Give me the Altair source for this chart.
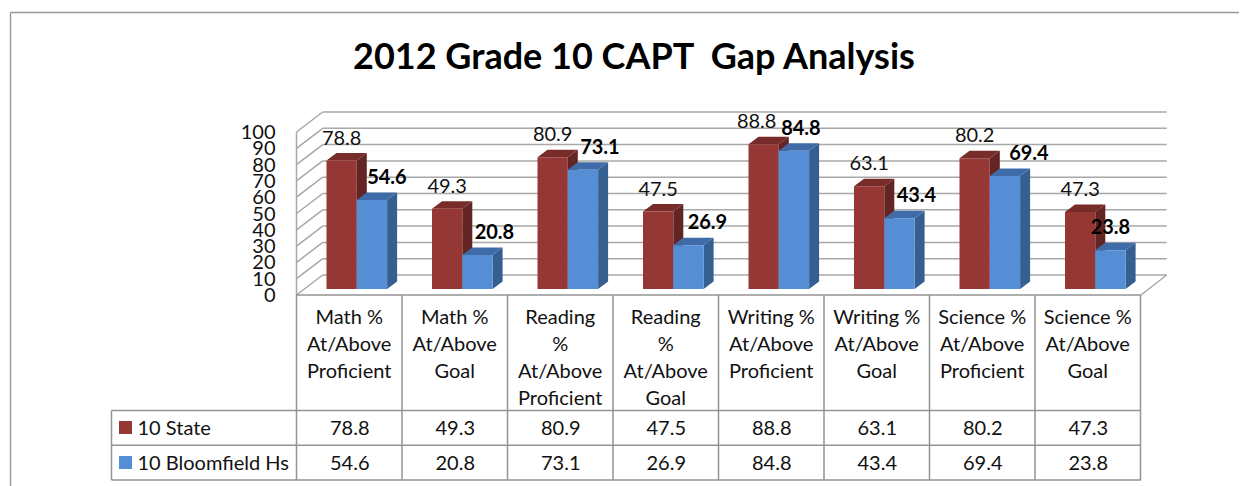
import altair as alt
import pandas as pd

# ---- chart values ----
title = "2012 Grade 10 CAPT\u00a0 Gap Analysis"
categories = [
    ["Math %", "At/Above", "Proficient"],
    ["Math %", "At/Above", "Goal"],
    ["Reading", "%", "At/Above", "Proficient"],
    ["Reading", "%", "At/Above", "Goal"],
    ["Writing %", "At/Above", "Proficient"],
    ["Writing %", "At/Above", "Goal"],
    ["Science %", "At/Above", "Proficient"],
    ["Science %", "At/Above", "Goal"],
]
state = [78.8, 49.3, 80.9, 47.5, 88.8, 63.1, 80.2, 47.3]
bloomfield = [54.6, 20.8, 73.1, 26.9, 84.8, 43.4, 69.4, 23.8]
series_names = ["10 State", "10 Bloomfield Hs"]
axis_ticks = list(range(0, 101, 10))

# ---- layout (page pixels are converted to scale units) ----
FONT = "Lato"
W, H = 1231, 478
FX0, FX1, FY0 = 297.0, 1141.0, 295.0
CAT_PX, UNIT_PX = (FX1 - FX0) / 8, 1.63
DEPTH_X, DEPTH_Y = 25.7, 20.0       # full wall depth in pixels


def ux(px):
    return (px - FX0) / CAT_PX


def uy(px):
    return (FY0 - px) / UNIT_PX


XS = alt.Scale(domain=[ux(8), ux(8 + W)], range=[0, W], nice=False, zero=False)
YS = alt.Scale(domain=[uy(8 + H), uy(8)], range=[H, 0], nice=False, zero=False)
X = alt.X("x:Q", scale=XS, axis=None)
Y = alt.Y("y:Q", scale=YS, axis=None)
Y2 = alt.Y2("y2:Q")
X2 = alt.X2("x2:Q")


def lines_layer(segs, color, width):
    rows = []
    for i, (x0, y0, x1, y1) in enumerate(segs):
        rows += [dict(id=i, o=0, x=ux(x0), y=uy(y0)), dict(id=i, o=1, x=ux(x1), y=uy(y1))]
    return (
        alt.Chart(pd.DataFrame(rows))
        .mark_line(color=color, strokeWidth=width, clip=False)
        .encode(x=X, y=Y, detail="id:N", order="o:Q")
    )


def text_layer(rows, size=20, weight="normal", align="center", color="#111111"):
    return (
        alt.Chart(pd.DataFrame(rows))
        .mark_text(font=FONT, fontSize=size, fontWeight=weight, align=align,
                   baseline="middle", color=color, dy=1)
        .encode(x=X, y=Y, text="t:N")
    )


layers = []

# outer frame
layers.append(lines_layer([(10.5, 12.5, 10.5, 486), (10.5, 12.5, 1247, 12.5)], "#989898", 1.4))

# walls
grid = []
for v in axis_ticks:
    back = FY0 - DEPTH_Y - v * UNIT_PX
    grid.append((FX0 + DEPTH_X, back, FX1 + DEPTH_X, back))
    grid.append((FX0 - 0.5, back + DEPTH_Y, FX0 + DEPTH_X, back))
grid.append((FX1, FY0, FX1 + DEPTH_X, FY0 - DEPTH_Y))
grid.append((FX0 - 0.5, FY0, FX0 - 0.5, FY0 - 100 * UNIT_PX))
layers.append(lines_layer(grid, "#A8A8A8", 1.5))

# 3-D bars: values pass through the y scale, depth is added in scale units
BAR_LEFT = 29.5 / CAT_PX
BAR_W = 30.3 / CAT_PX
BASE = 6.0 / UNIT_PX
SIDE_X = 10.0 / CAT_PX
SIDE_Y = 7.5 / UNIT_PX
palette = [("#953735", "#632523", "#772C2A"), ("#558ED5", "#365F91", "#3F6CA8")]

for s, vals in enumerate([state, bloomfield]):
    front, side, top = [], [], []
    for c, v in enumerate(vals):
        l = c + BAR_LEFT + s * BAR_W
        r = l + BAR_W
        h = v + BASE
        front.append(dict(x=l, x2=r, y=BASE, y2=h))
        side += [dict(id=c, x=r, y=BASE, y2=h),
                 dict(id=c, x=r + SIDE_X, y=BASE + SIDE_Y, y2=h + SIDE_Y)]
        top += [dict(id=c, x=l, y=h, y2=h),
                dict(id=c, x=l + SIDE_X, y=h, y2=h + SIDE_Y),
                dict(id=c, x=r, y=h, y2=h + SIDE_Y),
                dict(id=c, x=r + SIDE_X, y=h + SIDE_Y, y2=h + SIDE_Y)]
    dark, mid = palette[s][1], palette[s][2]
    layers.append(alt.Chart(pd.DataFrame(side)).mark_area(color=dark, interpolate="linear")
                  .encode(x=X, y=Y, y2=Y2, detail="id:N"))
    layers.append(alt.Chart(pd.DataFrame(top)).mark_area(color=mid, interpolate="linear")
                  .encode(x=X, y=Y, y2=Y2, detail="id:N"))
    layers.append(alt.Chart(pd.DataFrame(front)).mark_rect(color=palette[s][0])
                  .encode(x=X, x2=X2, y=Y, y2=Y2))

# table lines
table = []
for i in range(9):
    table.append((FX0 + i * CAT_PX - 0.5, FY0, FX0 + i * CAT_PX - 0.5, 480))
for py in (410.6, 445.3, 480):
    table.append((111.5, py, FX1, py))
table.append((111.5, 410.6, 111.5, 480))
table.append((FX0 - 0.5, FY0, FX1, FY0))
layers.append(lines_layer(table, "#939393", 1.5))

# legend keys in the table
keys = []
for s, py in enumerate((421, 456)):
    keys.append(dict(x=ux(119), x2=ux(132), y=uy(py), y2=uy(py + 13), c=palette[s][0]))
layers.append(alt.Chart(pd.DataFrame(keys)).mark_rect()
              .encode(x=X, x2=X2, y=Y, y2=Y2, color=alt.Color("c:N", scale=None)))
layers.append(text_layer([dict(x=ux(137.5), y=uy(428), t=series_names[0]),
                          dict(x=ux(137.5), y=uy(463), t=series_names[1])], align="left"))

# table text
rows = []
for c, lines in enumerate(categories):
    cx = c + 0.5
    for n, line in enumerate(lines):
        rows.append(dict(x=cx - 0.005, y=uy(316.5 + 27 * n), t=line))
    rows.append(dict(x=cx, y=uy(428), t=f"{state[c]:.1f}"))
    rows.append(dict(x=cx, y=uy(463), t=f"{bloomfield[c]:.1f}"))
layers.append(text_layer(rows))

# axis numbers
layers.append(text_layer([dict(x=ux(275.5), y=v + 0.0, t=str(v)) for v in axis_ticks], align="right"))

# data labels
state_shift = [0, 0, 0, 0, -7, 0, 0, 0]
hs_shift = [15, 17, 17, 19, 7, 17, 24, 0]
lab_s, lab_b = [], []
LIFT = 23 / UNIT_PX
for c in range(8):
    lab_s.append(dict(x=c + BAR_LEFT + 0.5 * BAR_W + state_shift[c] / CAT_PX,
                      y=state[c] + BASE + LIFT, t=f"{state[c]:.1f}"))
    lab_b.append(dict(x=c + BAR_LEFT + 1.5 * BAR_W + hs_shift[c] / CAT_PX,
                      y=bloomfield[c] + BASE + LIFT, t=f"{bloomfield[c]:.1f}"))
layers.append(text_layer(lab_s))
layers.append(text_layer(lab_b, weight="bold", color="#000000"))

# title
layers.append(text_layer([dict(x=ux(634), y=uy(57), t=title)], size=36, weight="bold", color="#000000"))

chart = (
    alt.layer(*layers)
    .properties(width=W, height=H, padding=0, autosize=alt.AutoSizeParams(type="none"),
                background="white")
    .configure_view(stroke=None)
)
chart.save("out.html", embed_options={"renderer": "svg", "actions": False})
